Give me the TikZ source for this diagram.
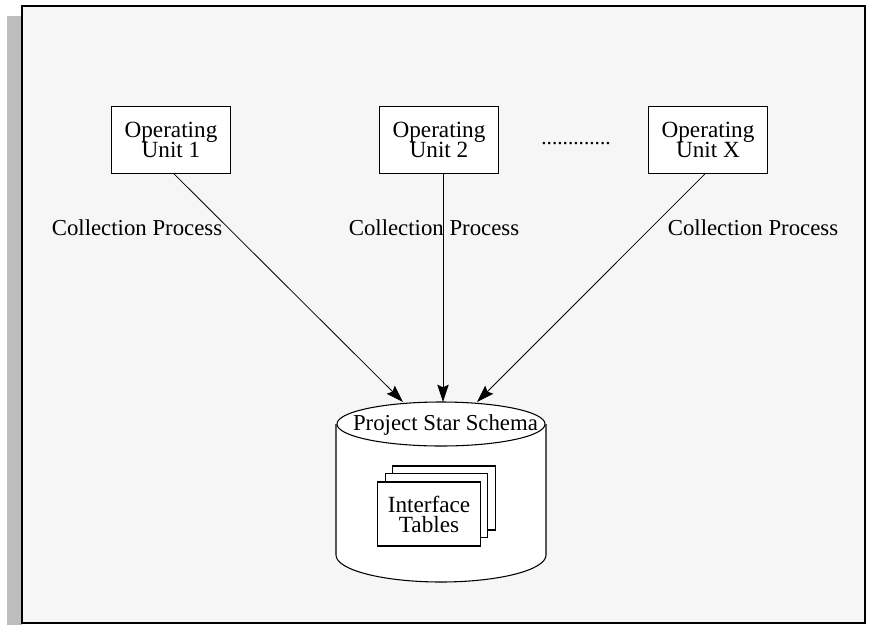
\documentclass[tikz,border=0pt]{standalone}
\usepackage{fontspec}
\setmainfont{Liberation Serif}
\usetikzlibrary{arrows.meta}
\definecolor{paneback}{HTML}{F6F6F6}
\definecolor{paneshade}{HTML}{BDBDBD}
\newcommand{\boxfont}{\fontsize{17.4}{15}\selectfont\setlength{\lineskiplimit}{-10pt}}
\tikzset{
  unitbox/.style = {draw, line width = .8pt, fill = white, minimum width = 89pt, minimum height = 50pt, inner sep = 0pt, align = center, font = \boxfont},
  sheetbox/.style = {draw, line width = .8pt, fill = white, minimum width = 77pt, minimum height = 48pt, inner sep = 0pt, align = center, font = \boxfont},
  proclabel/.style = {inner sep = 0pt, font = \fontsize{17.1}{16}\selectfont},
  feedline/.style = {-{Stealth[length = 13pt, width = 8.5pt, inset = 2pt]}, line width = .6pt}
}
\begin{document}
\begin{tikzpicture}[x = .75pt, y = -.75pt]
\useasboundingbox (0,0) rectangle (870,625);
\fill[white] (0,0) rectangle (870,625);
\fill[paneshade] (7,16) rectangle (22,625);
\draw[line width = 2pt, fill = paneback] (22,6) rectangle (865,623);
% drum
\draw[line width = .8pt, fill = white] (336,424) -- (336,555) arc[start angle = 180, end angle = 0, x radius = 105, y radius = 27] -- (546,424);
\draw[line width = .8pt, fill = white] (441,424) ellipse[x radius = 104, y radius = 22];
\coordinate (drumtop) at (443,402);
\coordinate (drumleft) at (403,402);
\coordinate (drumright) at (477,402);
% sheets
\node[sheetbox] (sheetc) at (444,498) {};
\node[sheetbox] (sheetb) at (436.5,505.5) {};
\node[sheetbox] (sheeta) at (429,514) {Interface\\Tables};
\node[proclabel] (schema) at (445.5,425.5) {Project Star Schema};
% units
\node[unitbox] (unita) at (171,140) {Operating\\Unit 1};
\node[unitbox] (unitb) at (439,140) {Operating\\Unit 2};
\node[unitbox] (unitc) at (708,140) {Operating\\Unit X};
\node[proclabel] (labela) at (137,228) {Collection Process};
\node[proclabel] (labelb) at (434,228) {Collection Process};
\node[proclabel] (labelc) at (753,228) {Collection Process};
\node[inner sep = 0pt, font = \fontsize{16}{16}\selectfont] (dots) at (576,144) {.............};
\draw[feedline] (unita.south -| 174,0) -- (drumleft);
\draw[feedline] (unitb.south -| 443,0) -- (drumtop);
\draw[feedline] (unitc.south -| 705,0) -- (drumright);
\end{tikzpicture}
\end{document}
